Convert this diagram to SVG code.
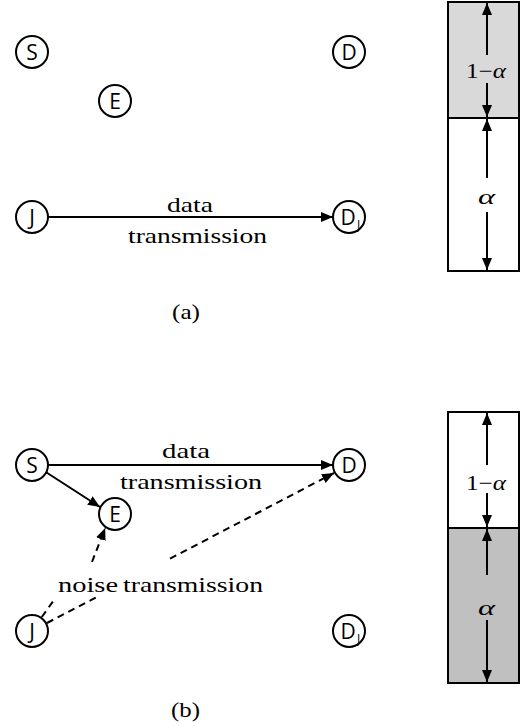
<svg xmlns="http://www.w3.org/2000/svg" width="524" height="726" viewBox="0 0 524 726">
<style>
.node circle{fill:#fff;stroke:#000;stroke-width:2}
.nl{font-family:"Open Sans","Noto Sans",sans-serif;font-size:21px;text-anchor:middle;fill:#000}
.sub{font-family:"Open Sans","Noto Sans",sans-serif;font-size:12px;fill:#000}
.lbl{font-family:"Liberation Serif","Times New Roman",serif;font-size:21px;fill:#000}
.math{font-family:"Liberation Serif","Times New Roman",serif;font-size:21px;fill:#000}
.edge{stroke:#000;stroke-width:2;fill:none}
.dash{stroke-dasharray:7,5}
.box{stroke:#000;stroke-width:2}
</style>
<defs>
<marker id="ah" markerUnits="userSpaceOnUse" markerWidth="13" markerHeight="11" refX="12" refY="5" orient="auto">
<path d="M0,0 L12,5 L0,10 z" fill="#000"/>
</marker>
</defs>

<!-- (a) nodes -->
<g id="S_a" class="node"><circle cx="32" cy="52" r="16"/><text class="nl" x="32" y="59.5">S</text></g>
<g id="E_a" class="node"><circle cx="115" cy="101" r="16"/><text class="nl" x="115" y="108.5">E</text></g>
<g id="D_a" class="node"><circle cx="349" cy="52" r="16"/><text class="nl" x="349" y="59.5">D</text></g>
<g id="J_a" class="node"><circle cx="32" cy="217" r="16"/><text class="nl" x="32" y="224.5">J</text></g>
<g id="DJ_a" class="node"><circle cx="349" cy="217" r="16"/><text class="nl" x="348" y="224.5">D</text><text class="sub" x="357" y="229">J</text></g>

<!-- (b) nodes -->
<g id="S_b" class="node"><circle cx="32" cy="465" r="16"/><text class="nl" x="32" y="472.5">S</text></g>
<g id="E_b" class="node"><circle cx="115" cy="514" r="16"/><text class="nl" x="115" y="521.5">E</text></g>
<g id="D_b" class="node"><circle cx="349" cy="465" r="16"/><text class="nl" x="349" y="472.5">D</text></g>
<g id="J_b" class="node"><circle cx="32" cy="631" r="16"/><text class="nl" x="32" y="638.5">J</text></g>
<g id="DJ_b" class="node"><circle cx="349" cy="631" r="16"/><text class="nl" x="348" y="638.5">D</text><text class="sub" x="357" y="643">J</text></g>

<g id="connectors">
<!-- (a) J -> DJ -->
<line class="edge" x1="48" y1="217" x2="333" y2="217" marker-end="url(#ah)"/>
<!-- (b) S -> D -->
<line class="edge" x1="48" y1="465" x2="333" y2="465" marker-end="url(#ah)"/>
<!-- (b) S -> E -->
<line class="edge" x1="46.5" y1="472.5" x2="100" y2="507" marker-end="url(#ah)"/>
<!-- (b) J -> E dashed -->
<path class="edge dash" d="M41.8,617 L55.4,598 M92,562 L105.2,527.9" marker-end="url(#ah)"/>
<!-- (b) J -> D dashed -->
<path class="edge dash" d="M47,623 L100,595.3 M170,558.7 L334,473" marker-end="url(#ah)"/>
</g>

<g id="labels">
<text class="lbl" x="167" y="212" textLength="46" lengthAdjust="spacingAndGlyphs">data</text>
<text class="lbl" x="128" y="243" textLength="139" lengthAdjust="spacingAndGlyphs">transmission</text>
<text class="lbl" x="162" y="458" textLength="48" lengthAdjust="spacingAndGlyphs">data</text>
<text class="lbl" x="120" y="489" textLength="142" lengthAdjust="spacingAndGlyphs">transmission</text>
<text class="lbl" x="58" y="592" textLength="60" lengthAdjust="spacingAndGlyphs">noise</text>
<text class="lbl" x="123" y="592" textLength="140" lengthAdjust="spacingAndGlyphs">transmission</text>
<text class="lbl" x="172" y="319" textLength="28" lengthAdjust="spacingAndGlyphs">(a)</text>
<text class="lbl" x="171" y="717" textLength="29" lengthAdjust="spacingAndGlyphs">(b)</text>
</g>

<!-- (a) bar -->
<g id="bar_a">
<rect class="box" x="448" y="2" width="71" height="116" fill="#d9d9d9"/>
<rect class="box" x="448" y="118" width="71" height="153" fill="#fff"/>
<line class="edge" x1="487" y1="55" x2="487" y2="3" marker-end="url(#ah)"/>
<line class="edge" x1="487" y1="83" x2="487" y2="117" marker-end="url(#ah)"/>
<line class="edge" x1="487" y1="178" x2="487" y2="119" marker-end="url(#ah)"/>
<line class="edge" x1="487" y1="212" x2="487" y2="270" marker-end="url(#ah)"/>
<text class="math" x="466" y="78" textLength="40" lengthAdjust="spacingAndGlyphs">1−<tspan font-style="italic">α</tspan></text>
<text class="math" x="478" y="204" font-style="italic" textLength="17" lengthAdjust="spacingAndGlyphs">α</text>
</g>

<!-- (b) bar -->
<g id="bar_b">
<rect class="box" x="448" y="412" width="71" height="116" fill="#fff"/>
<rect class="box" x="448" y="528" width="71" height="155" fill="#c0c0c0"/>
<line class="edge" x1="487" y1="465" x2="487" y2="413" marker-end="url(#ah)"/>
<line class="edge" x1="487" y1="493" x2="487" y2="527" marker-end="url(#ah)"/>
<line class="edge" x1="487" y1="575" x2="487" y2="529" marker-end="url(#ah)"/>
<line class="edge" x1="487" y1="620" x2="487" y2="682" marker-end="url(#ah)"/>
<text class="math" x="466" y="490" textLength="40" lengthAdjust="spacingAndGlyphs">1−<tspan font-style="italic">α</tspan></text>
<text class="math" x="478" y="615" font-style="italic" textLength="17" lengthAdjust="spacingAndGlyphs">α</text>
</g>
</svg>
